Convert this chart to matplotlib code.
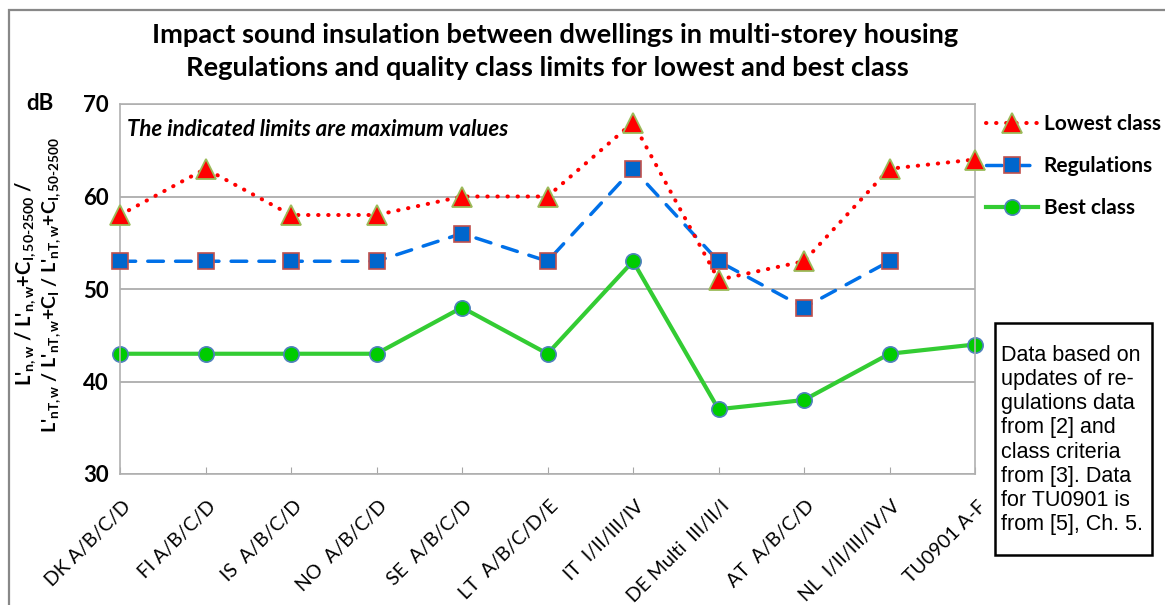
import matplotlib.pyplot as plt
import matplotlib.transforms as mtrans
from matplotlib.patches import Rectangle

categories = ["DK A/B/C/D", "FI A/B/C/D", "IS  A/B/C/D", "NO  A/B/C/D", "SE  A/B/C/D",
              "LT  A/B/C/D/E", "IT  I/II/III/IV", "DE Multi  III/II/I", "AT  A/B/C/D",
              "NL  I/II/III/IV/V", "TU0901 A-F"]
lowest_class = [58, 63, 58, 58, 60, 60, 68, 51, 53, 63, 64]
regulations = [53, 53, 53, 53, 56, 53, 63, 53, 48, 53, None]
best_class = [43, 43, 43, 43, 48, 43, 53, 37, 38, 43, 44]
y_ticks = [30, 40, 50, 60, 70]

plt.rcParams['font.family'] = ['Lato', 'DejaVu Sans']
plt.rcParams['mathtext.fontset'] = 'custom'
plt.rcParams['mathtext.rm'] = 'Lato:bold'
plt.rcParams['mathtext.it'] = 'Lato:bold'
plt.rcParams['mathtext.bf'] = 'Lato:bold'

W, H = 1165, 605
fig = plt.figure(figsize=(W / 100, H / 100), dpi=100)
ax = fig.add_axes([120 / W, 1 - 474 / H, 855 / W, 370 / H])

def fx(px):
    return px / W

def fy(py):
    return 1 - py / H

# outer chart border
fig.patches.append(Rectangle((fx(9), -0.1), 1.2, fy(10) + 0.1, transform=fig.transFigure,
                             fill=False, edgecolor='#888888', lw=1.6))

x = list(range(len(categories)))
reg_x = [i for i, v in zip(x, regulations) if v is not None]
reg_y = [v for v in regulations if v is not None]

ax.plot(x, lowest_class, color='#FF0000', lw=2.9, linestyle=(0, (0.1, 2.4)), dash_capstyle='round',
        marker='^', markersize=14, markerfacecolor='#FF0000', markeredgecolor='#9BBB59',
        markeredgewidth=1.3, label='Lowest class', zorder=4, clip_on=False)
ax.plot(reg_x, reg_y, color='#0070E8', lw=2.5, linestyle=(0, (4.5, 3.5)), dash_capstyle='round',
        marker='s', markersize=11, markerfacecolor='#0066CC', markeredgecolor='#C0504D',
        markeredgewidth=1.2, label='Regulations', zorder=3, clip_on=False)
ax.plot(x, best_class, color='#33CC33', lw=3, marker='o', markersize=11,
        markerfacecolor='#00CC00', markeredgecolor='#4F81BD', markeredgewidth=1.2,
        label='Best class', zorder=2, clip_on=False)

ax.set_xlim(0, len(categories) - 1)
ax.set_ylim(30, 70)
ax.set_yticks(y_ticks)
ax.set_yticklabels([str(t) for t in y_ticks], fontsize=16, fontweight='bold')
ax.yaxis.grid(True, color='#A6A6A6', lw=1.2)
ax.set_axisbelow(True)
ax.tick_params(axis='y', length=0, pad=8)
ax.set_xticks(x)
ax.set_xticklabels(categories, rotation=45, ha='right', rotation_mode='anchor', fontsize=14)
ax.tick_params(axis='x', direction='in', length=5, color='#A6A6A6', pad=17)
shift = mtrans.ScaledTranslation(2 / 100, 0, fig.dpi_scale_trans)
for lbl in ax.get_xticklabels():
    lbl.set_transform(lbl.get_transform() + shift)
for s in ax.spines.values():
    s.set_color('#B0B0B0')
    s.set_linewidth(1.2)

ax.text(0.008, 0.93, "The indicated limits are maximum values", transform=ax.transAxes,
        fontsize=16, fontweight='bold', style='italic', va='center')

fig.text(fx(555), fy(35), "Impact sound insulation between dwellings in multi-storey housing",
         ha='center', va='center', fontsize=19.6, fontweight='bold')
fig.text(fx(547), fy(68), "Regulations and quality class limits for lowest and best class",
         ha='center', va='center', fontsize=19.6, fontweight='bold')
fig.text(fx(40), fy(103), "dB", ha='center', va='center', fontsize=16, fontweight='bold')

fig.text(fx(26), fy(283), r"L'$_{\rm n,w}$ / L'$_{\rm n,w}$+C$_{\rm I,50\text{-}2500}$ /",
         rotation=90, ha='center', va='center', fontsize=14.5, fontweight='bold')
fig.text(fx(52), fy(285),
         r"L'$_{\rm nT,w}$ / L'$_{\rm nT,w}$+C$_{\rm I}$ / L'$_{\rm nT,w}$+C$_{\rm I,50\text{-}2500}$",
         rotation=90, ha='center', va='center', fontsize=14, fontweight='bold')

leg = fig.legend(loc='upper left', bbox_to_anchor=(fx(978), fy(106)), frameon=False,
                 prop={'weight': 'bold', 'size': 15}, handlelength=2.5, labelspacing=1.05,
                 handletextpad=0.25, borderaxespad=0)

# note box
fig.patches.append(Rectangle((fx(995), fy(555)), fx(1152) - fx(995), fy(323) - fy(555),
                             transform=fig.transFigure, facecolor='white', edgecolor='black', lw=1.8))
fig.text(fx(1001), fy(440),
         "Data based on\nupdates of re-\ngulations data\nfrom [2] and\nclass criteria\nfrom [3]. Data\nfor TU0901 is\nfrom [5], Ch. 5.",
         ha='left', va='center', fontsize=15.5, family=['Liberation Sans', 'DejaVu Sans'],
         linespacing=1.2)

fig.savefig('out.png', dpi=100)
